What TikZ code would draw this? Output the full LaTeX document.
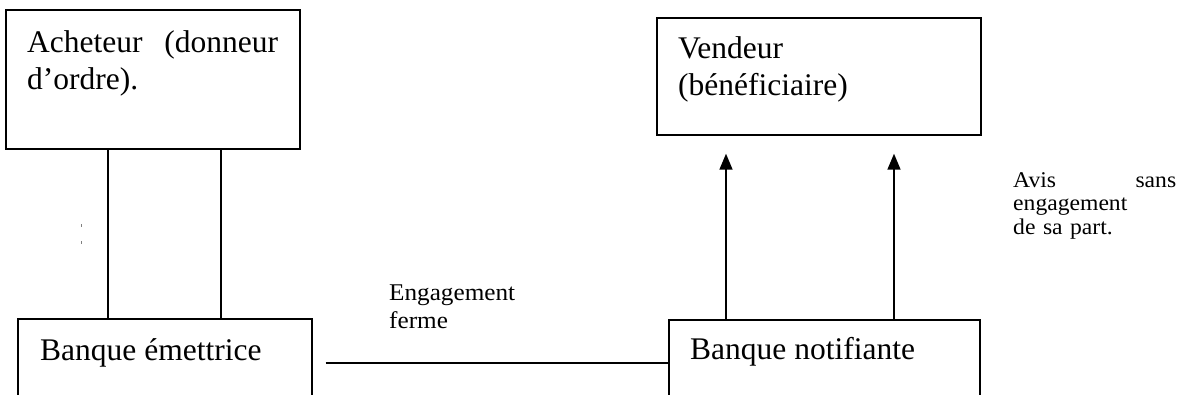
\documentclass[tikz,border=0pt]{standalone}
\usepackage{fontspec}
\setmainfont{Liberation Serif}
\newfontfamily\notefont[FakeStretch=1.05]{Liberation Serif}
\usetikzlibrary{arrows.meta}

\begin{document}
\begin{tikzpicture}[x=1pt,y=-1pt,
    party/.style={draw,line width=1.4pt,minimum width=#1,inner sep=0pt},
    bigtext/.style={inner sep=0pt,anchor=base west,align=left,
      font=\fontsize{31.5}{37}\selectfont},
    notetext/.style={inner sep=0pt,anchor=base west,align=left,
      font=\notefont\fontsize{22.5}{23.5}\selectfont},
    link/.style={line width=1.4pt},
    flow/.style={line width=1.6pt,-{Triangle[length=16pt,width=13pt]}}]
  \useasboundingbox (0,0) rectangle (1180,394);
  \clip (0,0) rectangle (1180,394);

  % the four parties
  \node[party=294pt,minimum height=139pt] (acheteur) at (153,79.5) {};
  \node[party=324pt,minimum height=117pt] (vendeur) at (819,76.5) {};
  \node[party=294pt,minimum height=88pt] (emettrice) at (165,363) {};
  \node[party=311pt,minimum height=86pt] (notifiante) at (824.5,363) {};

  % their names
  \node[bigtext,text width=251pt] (acheteur-txt) at (27,52)
    {Acheteur \hfill (donneur\\d'ordre).};
  \node[bigtext,text width=260pt] (vendeur-txt) at (678,58)
    {Vendeur\\(bénéficiaire)};
  \node[bigtext] (emettrice-txt) at (40,360) {Banque émettrice};
  \node[bigtext] (notifiante-txt) at (690,359) {Banque notifiante};

  % buyer -- issuing bank
  \coordinate (c1) at (108,0);
  \coordinate (c2) at (221,0);
  \draw[link] (acheteur.south -| c1) -- (emettrice.north -| c1);
  \draw[link] (acheteur.south -| c2) -- (emettrice.north -| c2);

  % issuing bank -- notifying bank
  \draw[link] ([xshift=13pt]emettrice.east) -- (notifiante.west);
  \node[notetext,text width=150pt,font=\notefont\fontsize{24}{28}\selectfont]
    (ferme) at (389,300) {Engagement\\ferme};

  % notifying bank -> seller, the tips stop short of the seller's box
  \coordinate (a1) at (726,0);
  \coordinate (a2) at (894,0);
  \coordinate (t1) at ([yshift=-18pt]vendeur.south -| a1);
  \coordinate (t2) at ([yshift=-18pt]vendeur.south -| a2);
  \draw[flow] (notifiante.north -| a1) -- (t1);
  \draw[flow] (notifiante.north -| a2) -- (t2);
  \node[notetext,text width=163pt] (avis) at (1013,187)
    {Avis \hfill sans\\engagement\\de sa part.};

  % two small specks left of the buyer's links
  \fill[gray] (80.5,224) rectangle (81.7,226.5);
  \fill[gray] (80.5,241) rectangle (81.7,243.5);
\end{tikzpicture}
\end{document}
